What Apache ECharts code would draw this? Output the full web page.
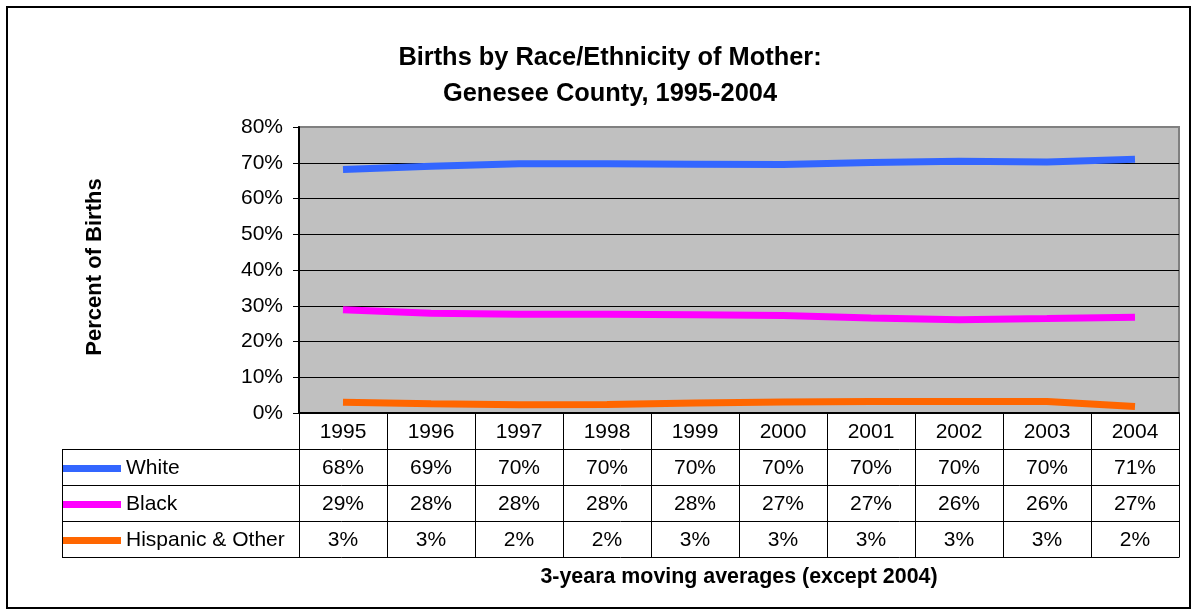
<!DOCTYPE html>
<html><head><meta charset="utf-8">
<script src="https://cdn.jsdelivr.net/npm/echarts@6/dist/echarts.min.js"></script>
<style>html,body{margin:0;padding:0;background:#fff}#c{width:1197px;height:615px}</style>
</head><body><div id="c"></div>
<script>
// ---- data ----
const years = ['1995','1996','1997','1998','1999','2000','2001','2002','2003','2004'];
const seriesNames = ['White', 'Black', 'Hispanic & Other'];
const seriesColors = ['#3366FF', '#FF00FF', '#FF6600'];
const whiteValues = [68.1, 69.0, 69.7, 69.7, 69.6, 69.5, 70.1, 70.4, 70.2, 71.0];
const blackValues = [28.9, 27.9, 27.6, 27.6, 27.5, 27.3, 26.6, 26.1, 26.4, 26.8];
const hispanicValues = [3.0, 2.6, 2.3, 2.4, 2.8, 3.1, 3.2, 3.2, 3.2, 1.8];
const whiteLabels = ['68%','69%','70%','70%','70%','70%','70%','70%','70%','71%'];
const blackLabels = ['29%','28%','28%','28%','28%','27%','27%','26%','26%','27%'];
const hispanicLabels = ['3%','3%','2%','2%','3%','3%','3%','3%','3%','2%'];
const yMin = 0, yMax = 80, yStep = 10;
const titleText = 'Births by Race/Ethnicity of Mother:\nGenesee County, 1995-2004';
const yTitle = 'Percent of Births';
const xTitle = '3-yeara moving averages (except 2004)';

const seriesValues = [whiteValues, blackValues, hispanicValues];
const tableLabels = [whiteLabels, blackLabels, hispanicLabels];
const FF = '"Liberation Sans", Arial, sans-serif';

const chart = echarts.init(document.getElementById('c'), null, {renderer: 'canvas'});
chart.setOption({
  animation: false,
  backgroundColor: '#fff',
  textStyle: {fontFamily: FF, color: '#000'},
  title: {
    text: titleText, left: 610, top: 40, textAlign: 'center', padding: 0,
    textStyle: {fontSize: 25.4, fontWeight: 'bold', lineHeight: 36, fontFamily: FF, color: '#000'}
  },
  legend: {
    orient: 'vertical', left: 63, top: 458, itemWidth: 58, itemHeight: 7, itemGap: 15,
    icon: 'rect', selectedMode: false, padding: 0,
    textStyle: {fontSize: 21, fontFamily: FF, color: '#000'},
    data: seriesNames
  },
  grid: {
    left: 299, top: 127, width: 880, height: 286, show: true,
    backgroundColor: '#C0C0C0', borderColor: '#808080', borderWidth: 2
  },
  xAxis: {
    type: 'category', data: years, boundaryGap: true,
    axisLine: {lineStyle: {color: '#000', width: 2}},
    axisTick: {show: true, interval: 0, length: 36, lineStyle: {color: '#000', width: 1}},
    axisLabel: {fontSize: 21, fontFamily: FF, color: '#000', margin: 9, interval: 0},
    splitLine: {show: false},
    name: xTitle, nameLocation: 'middle', nameGap: 154,
    nameTextStyle: {fontSize: 21.4, fontWeight: 'bold', fontFamily: FF, color: '#000'}
  },
  yAxis: {
    type: 'value', min: yMin, max: yMax, interval: yStep,
    axisLine: {show: true, lineStyle: {color: '#000', width: 2}},
    axisTick: {show: true, length: 6, lineStyle: {color: '#000', width: 1}},
    axisLabel: {fontSize: 21, fontFamily: FF, color: '#000', margin: 16, formatter: '{value}%'},
    splitLine: {show: true, showMaxLine: false, lineStyle: {color: '#000', width: 1}},
    name: yTitle, nameLocation: 'middle', nameGap: 193, nameRotate: 90,
    nameTextStyle: {fontSize: 22, fontWeight: 'bold', fontFamily: FF, color: '#000', padding: [0, 0, 0, 6]}
  },
  series: seriesNames.map((n, i) => ({
    name: n, type: 'line', data: seriesValues[i], symbol: 'none',
    color: seriesColors[i],
    lineStyle: {width: 7, color: seriesColors[i], cap: 'butt'}
  }))
});

// ---- data table built from the axis scale ----
const cx = years.map(y => chart.convertToPixel({xAxisIndex: 0}, y));
const band = cx[1] - cx[0];
const leftEdge = cx[0] - band / 2;
const rightEdge = cx[cx.length - 1] + band / 2;
const y0 = chart.convertToPixel({yAxisIndex: 0}, yMin);
const rowH = 36;
const tableLeft = 62;
const g = [];
const ls = {stroke: '#000', lineWidth: 1};
for (let k = 1; k <= 4; k++) {
  const yy = Math.round(y0 + rowH * k) + 0.5;
  g.push({type: 'line', shape: {x1: tableLeft, y1: yy, x2: rightEdge, y2: yy}, style: ls, silent: true});
}
const bounds = [tableLeft];
for (let i = 0; i <= years.length; i++) bounds.push(leftEdge + band * i);
bounds.forEach(bx => {
  const xx = Math.round(bx) + 0.5;
  g.push({type: 'line', shape: {x1: xx, y1: y0 + rowH, x2: xx, y2: y0 + rowH * 4 + 0.5}, style: ls, silent: true});
});
tableLabels.forEach((row, r) => {
  row.forEach((t, i) => {
    g.push({type: 'text', x: cx[i], y: y0 + rowH * (r + 1.5) + 1, silent: true,
      style: {text: t, fill: '#000', font: '21px ' + FF, align: 'center', verticalAlign: 'middle'}});
  });
});
// outer chart border
g.push({type: 'rect', shape: {x: 7, y: 7, width: 1183, height: 601}, style: {fill: 'none', stroke: '#000', lineWidth: 2}, silent: true});
chart.setOption({graphic: g});
</script>
</body></html>
